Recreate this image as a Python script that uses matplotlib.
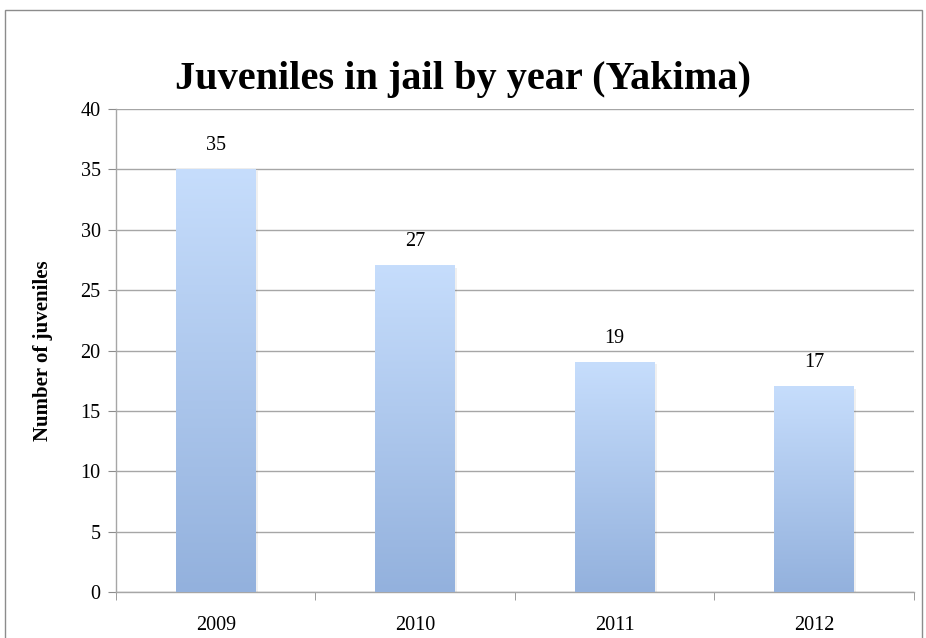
import matplotlib
matplotlib.use("Agg")
import matplotlib.pyplot as plt
from matplotlib.colors import LinearSegmentedColormap
from matplotlib.patches import Rectangle
import numpy as np

years = ["2009", "2010", "2011", "2012"]
juveniles = [35, 27, 19, 17]

plt.rcParams["font.family"] = ["Liberation Serif", "DejaVu Serif"]

fig = plt.figure(figsize=(9.26, 6.38), dpi=100)

# thin frame around the chart area (open at the bottom)
frame = Rectangle((5 / 926, -0.1), 917 / 926, 1.1 - 10 / 638, transform=fig.transFigure,
                  fill=False, edgecolor="#8c8c8c", linewidth=1.0)
fig.patches.append(frame)

ax = fig.add_axes([116 / 926, 46 / 638, 798 / 926, 483 / 638])

bar_cmap = LinearSegmentedColormap.from_list("bar_fade", ["#93b1dd", "#c6ddfc"])
gradient = np.linspace(0, 1, 256).reshape(-1, 1)
bar_width = 0.4

x = np.arange(len(years))
for xi, val in zip(x, juveniles):
    # soft shadow on the right edge
    ax.add_patch(Rectangle((xi - bar_width / 2 + 0.01, 0), bar_width, val - 0.15,
                           facecolor="#000000", alpha=0.06, edgecolor="none", zorder=2))
    ax.imshow(gradient, cmap=bar_cmap, origin="lower", aspect="auto",
              extent=[xi - bar_width / 2, xi + bar_width / 2, 0, val],
              interpolation="bilinear", zorder=3)
    ax.text(xi, val + 1.2, f"{val}", ha="center", va="bottom", fontsize=14.5)

ax.set_xlim(-0.5, len(years) - 0.5)
ax.set_ylim(0, 40)
ax.set_yticks(range(0, 41, 5))
ax.set_xticks(x)
ax.set_xticklabels(years)
ax.set_xticks(np.arange(-0.5, len(years), 1.0), minor=True)

ax.tick_params(axis="x", which="major", length=0, pad=17, labelsize=14.5)
ax.tick_params(axis="x", which="minor", length=6, color="#8c8c8c", direction="out")
ax.tick_params(axis="y", length=6, color="#8c8c8c", direction="out", pad=5, labelsize=14.5)

ax.yaxis.grid(True, color="#a6a6a6", linewidth=1.0)
ax.set_axisbelow(True)

for side in ["top", "right"]:
    ax.spines[side].set_visible(False)
for side in ["left", "bottom"]:
    ax.spines[side].set_color("#a6a6a6")
    ax.spines[side].set_linewidth(1.0)

ax.set_ylabel("Number of juveniles", fontsize=15, fontweight="bold", labelpad=20)
fig.text(0.5, 1 - 80 / 638, "Juveniles in jail by year (Yakima)", ha="center", va="center",
         fontsize=29, fontweight="bold")

plt.savefig("out.png", dpi=100)
plt.close()
